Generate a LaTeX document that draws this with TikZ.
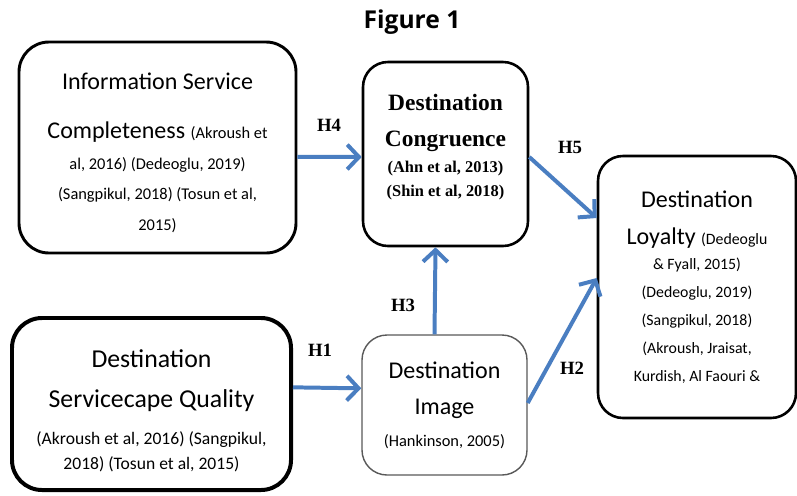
\documentclass[tikz,border=0pt]{standalone}
\usepackage{fontspec}
\setmainfont{Carlito}
\newfontfamily\timesfont{Liberation Serif}
\newfontfamily\titlefont{Open Sans}
\usetikzlibrary{arrows.meta,positioning}
\definecolor{arrowblue}{RGB}{74,126,193}

\begin{document}
\begin{tikzpicture}[
    x=0.03cm, y=-0.03cm,
    box/.style={draw, fill=white, align=center, inner sep=0pt},
    flow/.style={draw=arrowblue, line width=3.4pt, -{Straight Barb[length=10pt,width=21pt]}},
    hlabel/.style={font=\timesfont\bfseries\fontsize{16}{16}\selectfont, inner sep=0pt}
]

\useasboundingbox (0,0) rectangle (797,495);

\node[font=\titlefont\bfseries\fontsize{21}{21}\selectfont] (title) at (412,22) {Figure 1};

\node[box, line width=2.5pt, rounded corners=0.9cm, minimum width=8.31cm, minimum height=6.33cm,
      font=\fontsize{20.5}{26}\selectfont] (info) at (157.5,147.5)
    {\mbox{}\\[-3pt]
     Information Service\\[16pt]
     Completeness {\fontsize{14}{26}\selectfont (Akroush et}\\
     {\fontsize{14}{26}\selectfont al, 2016) (Dedeoglu, 2019)}\\
     {\fontsize{14}{26}\selectfont (Sangpikul, 2018) (Tosun et al,}\\
     {\fontsize{14}{26}\selectfont 2015)}};

\node[box, line width=2.2pt, rounded corners=0.75cm, minimum width=4.95cm, minimum height=5.52cm,
      font=\timesfont\bfseries\fontsize{20}{20.5}\selectfont] (congr) at (445.5,154)
    {Destination\\[11pt]
     Congruence\\[1pt]
     {\fontsize{14}{20.5}\selectfont (Ahn et al, 2013)}\\
     {\fontsize{14}{20.5}\selectfont (Shin et al, 2018)}\\[-5pt]\mbox{}};

\node[box, line width=2.2pt, rounded corners=0.75cm, minimum width=5.94cm, minimum height=7.86cm,
      font=\fontsize{20.5}{24}\selectfont] (loyal) at (697,287)
    {Destination\\[8pt]
     Loyalty {\fontsize{13.5}{24}\selectfont (Dedeoglu}\\[-3pt]
     {\fontsize{13.5}{24}\selectfont \& Fyall, 2015)}\\
     {\fontsize{13.5}{24}\selectfont (Dedeoglu, 2019)}\\
     {\fontsize{13.5}{24}\selectfont (Sangpikul, 2018)}\\
     {\fontsize{13.5}{24}\selectfont (Akroush, Jraisat,}\\
     {\fontsize{13.5}{24}\selectfont Kurdish, Al Faouri \&}};

\node[box, line width=3.4pt, rounded corners=0.9cm, minimum width=8.37cm, minimum height=5.16cm,
      font=\fontsize{22}{21.5}\selectfont] (serv) at (151.5,404)
    {\mbox{}\\[5pt]
     Destination\\[12.5pt]
     Servicecape Quality\\[10pt]
     {\fontsize{15}{21.5}\selectfont (Akroush et al, 2016) (Sangpikul,}\\
     {\fontsize{15}{21.5}\selectfont 2018) (Tosun et al, 2015)}};

\node[box, draw=black!65, line width=1.2pt, rounded corners=0.75cm, minimum width=4.95cm, minimum height=4.2cm,
      font=\fontsize{20.5}{27}\selectfont] (img) at (444.5,405)
    {Destination\\[4pt]
     Image\\
     {\fontsize{14}{27}\selectfont (Hankinson, 2005)}};

\draw[flow] ([yshift=-0.28cm]info.east) -- ([yshift=-0.09cm]congr.west);
\draw[flow] ([yshift=-0.09cm]congr.east) -- ([yshift=2.07cm]loyal.west);
\draw[flow] ([xshift=-0.3cm]img.north) -- ([xshift=-0.3cm]congr.south);
\draw[flow] ([yshift=0.5cm]serv.east) -- ([yshift=0.5cm]img.west);
\draw[flow] ([yshift=0.06cm]img.east) -- ([yshift=0.27cm]loyal.west);

\node[hlabel] (h4) at (329,125) {H4};
\node[hlabel] (h5) at (570,147) {H5};
\node[hlabel] (h3) at (403,305) {H3};
\node[hlabel] (h1) at (320,350) {H1};
\node[hlabel] (h2) at (572,368) {H2};

\end{tikzpicture}
\end{document}
